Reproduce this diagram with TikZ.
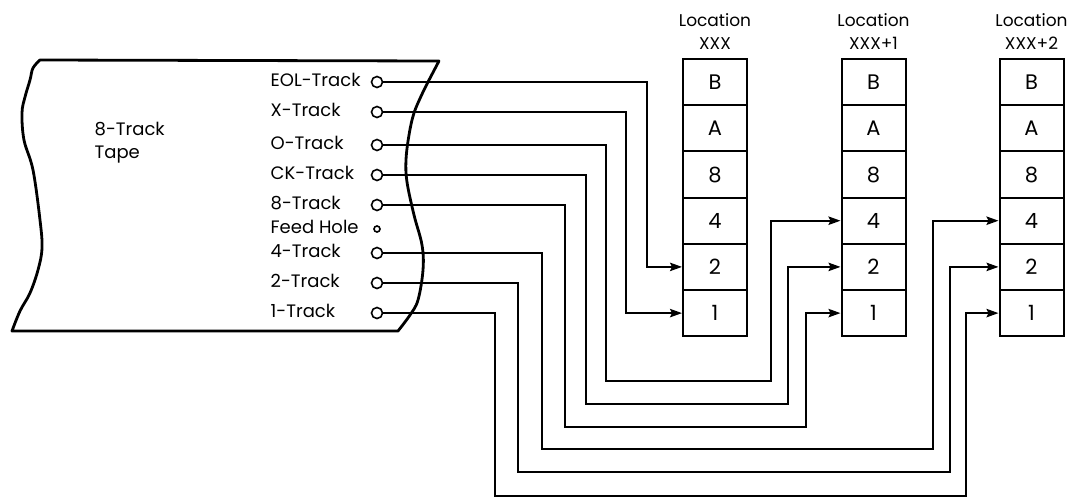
\documentclass[tikz,border=0pt]{standalone}
\usepackage{fontspec}
\setmainfont{Poppins}
\usetikzlibrary{arrows.meta}
\begin{document}
\begin{tikzpicture}[x=0.5pt,y=-0.5pt,line width=1pt,
    every node/.style={font=\fontsize{9}{11.5}\selectfont},
    hole/.style={draw,circle,inner sep=0pt,minimum size=5.5pt,line width=0.8pt},
    cell/.style={draw,minimum width=32pt,minimum height=23.1pt,inner sep=0pt,font=\fontsize{10.5}{12}\selectfont},
    link/.style={-{Stealth[length=6pt,width=4.2pt,inset=1pt]}}]
  \useasboundingbox (0,0) rectangle (1071,499);
  % tape with torn ends
  \draw[line width=1.4pt,line join=round]
    plot[smooth,tension=0.6] coordinates {(12,331) (20,311) (30,293) (38,270) (42,248) (40,220) (33,170) (24,140) (22,113) (25,97) (30,80) (33,68) (40,60)}
    -- plot[smooth,tension=0.6] coordinates {(439,61) (428,82) (423,92) (414,113) (409,135) (406,160) (407,182) (414,215) (422,245) (423,270) (418,300) (410,315) (398,331)}
    -- cycle;
  \node[anchor=west,align=left] (tape) at (87,143) {8-Track\\Tape};
  \foreach \n/\lab/\y in {eol/EOL-Track/82, x/X-Track/112, o/O-Track/145, ck/CK-Track/175, t8/8-Track/205, t4/4-Track/253, t2/2-Track/283, t1/1-Track/313} {
    \node[hole] (\n) at (377,\y) {};
    \node[anchor=west] (\n-lab) at (263,\y-2) {\lab};
  }
  \node[hole,minimum size=3pt] (feed) at (377,229) {};
  \node[anchor=west] (feed-lab) at (263,227) {Feed Hole};
  % storage locations
  \foreach \b/\x/\lab in {1/715/XXX, 2/873.5/XXX+1, 3/1031.5/XXX+2} {
    \node[align=center,font=\fontsize{8.5}{11.5}\selectfont] (loc\b) at (\x,31.5) {Location\\\lab};
    \foreach \c [count=\k] in {B,A,8,4,2,1}
      \node[cell] (c\b-\c) at (\x,{59+46.2*(\k-0.5)}) {\c};
  }
  % track wiring
  \foreach \src/\dst/\xa in {eol/c1-2/647, x/c1-1/626}
    \draw[link] (\src.east) -| (\dst.west -| \xa,0) -- (\dst.west);
  \foreach \src/\dst/\xa/\yb/\xb in {o/c2-4/606/381/771, ck/c2-2/586/404/788, t8/c2-1/565/427/806,
      t4/c3-4/542/449/933, t2/c3-2/518/472/950, t1/c3-1/495/496/966}
    \draw[link] (\src.east) -| (\xa,\yb) -- (\xb,\yb) |- (\dst.west);
\end{tikzpicture}
\end{document}
